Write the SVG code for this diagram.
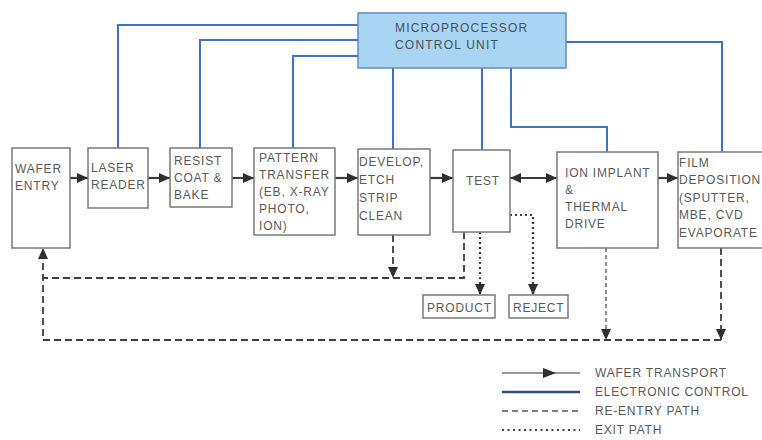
<svg xmlns="http://www.w3.org/2000/svg" width="762" height="440" viewBox="0 0 762 440">
<style>
.box{fill:#fff;stroke:#7a7a7a;stroke-width:1.5}
.t{font-family:"Liberation Sans",Arial,sans-serif;font-size:12px;fill:#5a5a5a;letter-spacing:0.8px}
.mcu{fill:#a9d5f2;stroke:#5d8fc6;stroke-width:1.5}
.mt{font-family:"Liberation Sans",Arial,sans-serif;font-size:12px;fill:#4a4f5a;letter-spacing:1.2px}
.ctl{fill:none;stroke:#3f72c4;stroke-width:2}
.wt{fill:none;stroke:#3a3a3a;stroke-width:2.2}
.re{fill:none;stroke:#3e3e3e;stroke-width:1.8;stroke-dasharray:7 4}
.re2{fill:none;stroke:#555;stroke-width:1.3;stroke-dasharray:4 3}
.ex{fill:none;stroke:#3e3e3e;stroke-width:2.2;stroke-dasharray:2 3}
</style>
<defs>
<marker id="ah" markerUnits="userSpaceOnUse" markerWidth="12" markerHeight="12" viewBox="0 0 12 12" refX="11" refY="6" orient="auto">
<path d="M0,1 L11,6 L0,11 Z" fill="#2e2e2e"/>
</marker>
<marker id="ahs" markerUnits="userSpaceOnUse" markerWidth="12" markerHeight="12" viewBox="0 0 12 12" refX="1" refY="6" orient="auto">
<path d="M12,1 L1,6 L12,11 Z" fill="#2e2e2e"/>
</marker>
</defs>
<rect width="762" height="440" fill="#fff"/>

<g id="connectors">
<!-- electronic control -->
<path class="ctl" d="M358,25 H118 V148"/>
<path class="ctl" d="M358,40 H200 V148"/>
<path class="ctl" d="M358,56 H293 V148"/>
<path class="ctl" d="M393,68 V149"/>
<path class="ctl" d="M482,68 V150"/>
<path class="ctl" d="M511,68 V127 H607 V152"/>
<path class="ctl" d="M566,42 H722 V152"/>
<!-- wafer transport -->
<path class="wt" d="M70,178 H88" marker-end="url(#ah)"/>
<path class="wt" d="M148,178 H170" marker-end="url(#ah)"/>
<path class="wt" d="M232,178 H254" marker-end="url(#ah)"/>
<path class="wt" d="M335,178 H358" marker-end="url(#ah)"/>
<path class="wt" d="M430,178 H453" marker-end="url(#ah)"/>
<path class="wt" d="M510,178 H557" marker-start="url(#ahs)" marker-end="url(#ah)"/>
<path class="wt" d="M658,178 H678" marker-end="url(#ah)"/>
<!-- re-entry -->
<path class="re" d="M393,235 V278" marker-end="url(#ah)"/>
<path class="re" d="M464,232 V278 H43"/>
<path class="re" d="M721,248 V340" marker-end="url(#ah)"/>
<path class="re2" d="M606,248 V340" marker-end="url(#ah)"/>
<path class="re" d="M721,340 H43 V248" marker-end="url(#ah)"/>
<!-- exit -->
<path class="ex" d="M480,232 V295" marker-end="url(#ah)"/>
<path class="ex" d="M510,215 H533 V295" marker-end="url(#ah)"/>
</g>

<g id="mcu">
<rect class="mcu" x="358" y="13" width="208" height="55"/>
<text class="mt" x="395" y="32">MICROPROCESSOR</text>
<text class="mt" x="395" y="49">CONTROL UNIT</text>
</g>
<g id="wafer-entry">
<rect class="box" x="12" y="148" width="58" height="100"/>
<text class="t" x="15" y="173">WAFER</text>
<text class="t" x="15" y="190">ENTRY</text>
</g>
<g id="laser-reader">
<rect class="box" x="88" y="148" width="60" height="60"/>
<text class="t" x="91" y="172">LASER</text>
<text class="t" x="91" y="189">READER</text>
</g>
<g id="resist">
<rect class="box" x="170" y="148" width="62" height="59"/>
<text class="t" x="174" y="165">RESIST</text>
<text class="t" x="174" y="182">COAT &amp;</text>
<text class="t" x="174" y="199">BAKE</text>
</g>
<g id="pattern">
<rect class="box" x="254" y="148" width="81" height="87"/>
<text class="t" x="259" y="162">PATTERN</text>
<text class="t" x="259" y="179">TRANSFER</text>
<text class="t" x="259" y="196">(EB, X-RAY</text>
<text class="t" x="259" y="213">PHOTO,</text>
<text class="t" x="259" y="230">ION)</text>
</g>
<g id="develop">
<rect class="box" x="358" y="149" width="72" height="86"/>
<text class="t" x="359" y="166">DEVELOP,</text>
<text class="t" x="359" y="184">ETCH</text>
<text class="t" x="359" y="202">STRIP</text>
<text class="t" x="359" y="220">CLEAN</text>
</g>
<g id="test">
<rect class="box" x="453" y="150" width="57" height="82"/>
<text class="t" x="466" y="185">TEST</text>
</g>
<g id="ion-implant">
<rect class="box" x="557" y="152" width="101" height="96"/>
<text class="t" x="565" y="177">ION IMPLANT</text>
<text class="t" x="565" y="194">&amp;</text>
<text class="t" x="565" y="211">THERMAL</text>
<text class="t" x="565" y="228">DRIVE</text>
</g>
<g id="film">
<rect class="box" x="678" y="152" width="100" height="96"/>
<text class="t" x="679" y="167">FILM</text>
<text class="t" x="679" y="184">DEPOSITION</text>
<text class="t" x="679" y="202">(SPUTTER,</text>
<text class="t" x="679" y="219">MBE, CVD</text>
<text class="t" x="679" y="237">EVAPORATE</text>
</g>
<g id="product">
<rect class="box" x="423" y="295" width="72" height="23"/>
<text class="t" x="427" y="312">PRODUCT</text>
</g>
<g id="reject">
<rect class="box" x="509" y="295" width="59" height="23"/>
<text class="t" x="513" y="312">REJECT</text>
</g>

<g id="legend">
<path d="M502,373 H580" fill="none" stroke="#333" stroke-width="1.2"/>
<path d="M543,368 L556,373 L543,378 Z" fill="#2e2e2e"/>
<path d="M502,392 H580" fill="none" stroke="#2f4f88" stroke-width="2.6"/>
<path d="M502,411 H580" class="re2" style="stroke-width:1.5;stroke-dasharray:6 4"/>
<path d="M502,430 H580" fill="none" stroke="#444" stroke-width="2" stroke-dasharray="2 3.5"/>
<text class="t" x="595" y="377">WAFER TRANSPORT</text>
<text class="t" x="595" y="396">ELECTRONIC CONTROL</text>
<text class="t" x="595" y="415">RE-ENTRY PATH</text>
<text class="t" x="595" y="434">EXIT PATH</text>
</g>
</svg>
